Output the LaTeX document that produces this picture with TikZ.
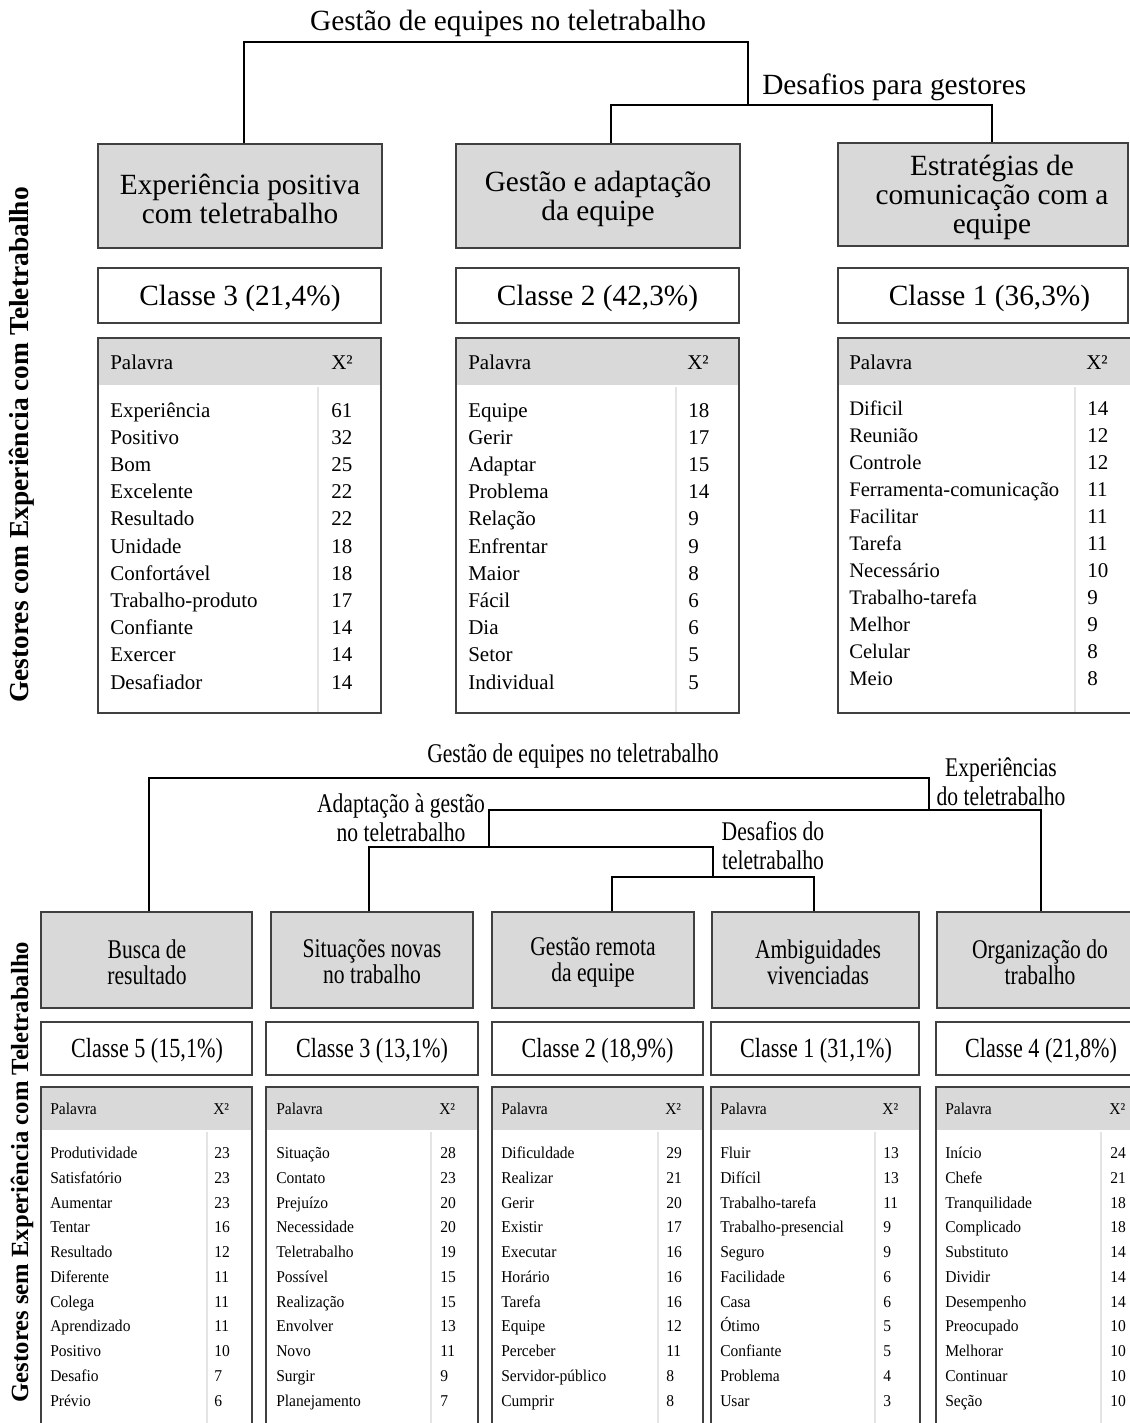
\documentclass[tikz,border=0pt]{standalone}
\usepackage{fontspec}
\setmainfont{Liberation Serif}
\newfontfamily\condfont[FakeStretch=0.8]{Liberation Serif}
\newfontfamily\tabfont[FakeStretch=0.94]{Liberation Serif}
\definecolor{boxgray}{HTML}{D9D9D9}
\definecolor{boxline}{HTML}{404040}
\definecolor{divline}{HTML}{E4E4E4}
\newcommand\myfbig{\fontsize{22}{21.75}\selectfont}
\newcommand\myftab{\fontsize{15.75}{18}\selectfont}
\newcommand\myfcl{\condfont\fontsize{20.25}{21.75}\selectfont}
\newcommand\myfcbox{\condfont\fontsize{20.25}{19.5}\selectfont}
\newcommand\myfccls{\condfont\fontsize{20.75}{22}\selectfont}
\newcommand\myfbtab{\tabfont\fontsize{12.4}{14}\selectfont}
\begin{document}
\begin{tikzpicture}[x=0.75pt,y=-0.75pt,
  graybox/.style={draw=boxline, line width=1.1pt, fill=boxgray, inner sep=0pt},
  classbox/.style={draw=boxline, line width=1.1pt, fill=white, inner sep=0pt},
  conn/.style={line width=0.9pt, draw=black},
  tabframe/.style={draw=boxline, line width=1.1pt, inner sep=0pt},
  divider/.style={draw=divline, line width=0.8pt},
  tcell/.style={inner sep=0pt, anchor=west, text height=10.7pt, text depth=0pt, font=\myftab},
  bcell/.style={inner sep=0pt, anchor=west, text height=8.4pt, text depth=0pt, font=\myfbtab},
  lbl/.style={inner sep=0pt, align=center}]
\useasboundingbox (0,0) rectangle (1129,1423);
\fill[white] (0,0) rectangle (1129,1423);

% ---------------- left labels
\node[rotate=90, inner sep=0pt, font=\bfseries\fontsize{20.6}{22}\selectfont] (lab1) at (22,445) {Gestores com Experiência com Teletrabalho};
\node[rotate=90, inner sep=0pt, font=\bfseries\fontsize{18.5}{20}\selectfont] (lab2) at (22,1172) {Gestores sem Experiência com Teletrabalho};

% ================= TOP SECTION
\node[lbl, font=\myfbig] (t0) at (508,23.5) {Gestão de equipes no teletrabalho};
\node[lbl, font=\myfbig, anchor=west] (t1) at (762,87) {Desafios para gestores};

\node[graybox, minimum width=213pt, minimum height=78pt] (a1) at (240,196) {};
\node[graybox, minimum width=213pt, minimum height=78pt] (a2) at (598,196) {};
\node[graybox, minimum width=217.5pt, minimum height=77.25pt] (a3) at (983,194.5) {};
\node[lbl, font=\myfbig] (a1t) at (240,199) {Experiência positiva\\com teletrabalho};
\node[lbl, font=\myfbig] (a2t) at (598,199) {Gestão e adaptação\\da equipe};
\node[lbl, font=\myfbig] (a3t) at (992,197) {Estratégias de\\comunicação com a\\equipe};

\coordinate (tj1L) at (244,42);
\coordinate (tj1R) at (748,42);
\coordinate (tj2L) at (611,105);
\coordinate (tj2R) at (992,105);
\draw[conn] (a1.north -| tj1L) -- (tj1L) -- (tj1R) -- (tj1R |- tj2L);
\draw[conn] (a2.north -| tj2L) -- (tj2L) -- (tj2R) -- (a3.north -| tj2R);

\node[classbox, minimum width=212.25pt, minimum height=41.25pt] (k1) at (239.5,295.5) {};
\node[classbox, minimum width=212.25pt, minimum height=41.25pt] (k2) at (597.5,295.5) {};
\node[classbox, minimum width=217.5pt, minimum height=41.25pt] (k3) at (983,295.5) {};
\node[lbl, font=\myfbig] (k1t) at (240,298) {Classe 3 (21,4\%)};
\node[lbl, font=\myfbig] (k2t) at (597.5,298) {Classe 2 (42,3\%)};
\node[lbl, font=\myfbig] (k3t) at (989.5,298) {Classe 1 (36,3\%)};

% top tables
\fill[boxgray] (98,338) rectangle (381,385);
\fill[boxgray] (456,338) rectangle (739,385);
\fill[boxgray] (838,338) rectangle (1131,385);
\draw[divider] (318,387) -- (318,712);
\draw[divider] (676,387) -- (676,712);
\draw[divider] (1075,387) -- (1075,712);
\node[tabframe, minimum width=212.25pt, minimum height=281.25pt] (tab1) at (239.5,525.5) {};
\node[tabframe, minimum width=212.25pt, minimum height=281.25pt] (tab2) at (597.5,525.5) {};
\node[tabframe, minimum width=219.75pt, minimum height=281.25pt] (tab3) at (984.5,525.5) {};

\node[tcell] (tab1h1) at (110,362) {Palavra};
\node[tcell] (tab1h2) at (331,362) {X²};
\node[tcell] (tab2h1) at (468,362) {Palavra};
\node[tcell] (tab2h2) at (687,362) {X²};
\node[tcell] (tab3h1) at (849,362) {Palavra};
\node[tcell] (tab3h2) at (1086,362) {X²};

\foreach \w/\n [count=\i from 0] in {Experiência/61,Positivo/32,Bom/25,Excelente/22,Resultado/22,Unidade/18,Confortável/18,Trabalho-produto/17,Confiante/14,Exercer/14,Desafiador/14}{
  \node[tcell] (tab1w\i) at (110,{410+27.2*\i}) {\w};
  \node[tcell] (tab1n\i) at (331,{410+27.2*\i}) {\n};
}
\foreach \w/\n [count=\i from 0] in {Equipe/18,Gerir/17,Adaptar/15,Problema/14,Relação/9,Enfrentar/9,Maior/8,Fácil/6,Dia/6,Setor/5,Individual/5}{
  \node[tcell] (tab2w\i) at (468,{410+27.2*\i}) {\w};
  \node[tcell] (tab2n\i) at (688,{410+27.2*\i}) {\n};
}
\foreach \w/\n [count=\i from 0] in {Dificil/14,Reunião/12,Controle/12,Ferramenta-comunicação/11,Facilitar/11,Tarefa/11,Necessário/10,Trabalho-tarefa/9,Melhor/9,Celular/8,Meio/8}{
  \node[tcell, font=\fontsize{15.5}{18}\selectfont] (tab3w\i) at (849,{408.5+27*\i}) {\w};
  \node[tcell] (tab3n\i) at (1087,{408.5+27*\i}) {\n};
}

% ================= BOTTOM SECTION
\node[lbl, font=\myfcl] (u0) at (573,756) {Gestão de equipes no teletrabalho};
\node[lbl, font=\myfcl] (u1) at (1001,782) {Experiências\\do teletrabalho};
\node[lbl, font=\myfcl] (u2) at (401,818) {Adaptação à gestão\\no teletrabalho};
\node[lbl, font=\myfcl] (u3) at (773,846) {Desafios do\\teletrabalho};

\node[graybox, minimum width=158.25pt, minimum height=72pt] (b1) at (146.5,960) {};
\node[graybox, minimum width=151.5pt, minimum height=72pt] (b2) at (372,960) {};
\node[graybox, minimum width=151.5pt, minimum height=72pt] (b3) at (593,960) {};
\node[graybox, minimum width=155.25pt, minimum height=72pt] (b4) at (815.5,960) {};
\node[graybox, minimum width=156pt, minimum height=72pt] (b5) at (1041,960) {};
\node[lbl, font=\myfcbox] (b1t) at (147,962) {Busca de\\resultado};
\node[lbl, font=\myfcbox] (b2t) at (372,962) {Situações novas\\no trabalho};
\node[lbl, font=\myfcbox] (b3t) at (593,962) {Gestão remota\\da equipe};
\node[lbl, font=\myfcbox] (b4t) at (818,962) {Ambiguidades\\vivenciadas};
\node[lbl, font=\myfcbox] (b5t) at (1040,962) {Organização do\\trabalho};

\coordinate (bj1L) at (149,778);
\coordinate (bj1R) at (929,778);
\coordinate (bj2L) at (489,810);
\coordinate (bj2R) at (1041,810);
\coordinate (bj3L) at (369,847);
\coordinate (bj3R) at (713,847);
\coordinate (bj4L) at (612,877);
\coordinate (bj4R) at (814,877);
\draw[conn] (b1.north -| bj1L) -- (bj1L) -- (bj1R) -- (bj1R |- bj2L);
\draw[conn] (bj2L |- bj3L) -- (bj2L) -- (bj2R) -- (b5.north -| bj2R);
\draw[conn] (b2.north -| bj3L) -- (bj3L) -- (bj3R) -- (bj3R |- bj4L);
\draw[conn] (b3.north -| bj4L) -- (bj4L) -- (bj4R) -- (b4.north -| bj4R);

\node[classbox, minimum width=158.25pt, minimum height=39.75pt] (c1) at (146.5,1048.5) {};
\node[classbox, minimum width=159pt, minimum height=39.75pt] (c2) at (372,1048.5) {};
\node[classbox, minimum width=158.25pt, minimum height=39.75pt] (c3) at (597.5,1048.5) {};
\node[classbox, minimum width=156pt, minimum height=39.75pt] (c4) at (815,1048.5) {};
\node[classbox, minimum width=157.5pt, minimum height=39.75pt] (c5) at (1041,1048.5) {};
\node[lbl, font=\myfccls] (c1t) at (147,1050.5) {Classe 5 (15,1\%)};
\node[lbl, font=\myfccls] (c2t) at (372,1050.5) {Classe 3 (13,1\%)};
\node[lbl, font=\myfccls] (c3t) at (597.5,1050.5) {Classe 2 (18,9\%)};
\node[lbl, font=\myfccls] (c4t) at (816,1050.5) {Classe 1 (31,1\%)};
\node[lbl, font=\myfccls] (c5t) at (1041,1050.5) {Classe 4 (21,8\%)};

% bottom tables
\fill[boxgray] (41,1087) rectangle (252,1130);
\fill[boxgray] (266,1087) rectangle (478,1130);
\fill[boxgray] (492,1087) rectangle (703,1130);
\fill[boxgray] (711,1087) rectangle (920,1130);
\fill[boxgray] (936,1087) rectangle (1146,1130);
\draw[divider] (207,1132) -- (207,1430);
\draw[divider] (431,1132) -- (431,1430);
\draw[divider] (658,1132) -- (658,1430);
\draw[divider] (875,1132) -- (875,1430);
\draw[divider] (1101,1132) -- (1101,1430);
\node[tabframe, minimum width=158.25pt, minimum height=257.25pt] (btab1) at (146.5,1258.5) {};
\node[tabframe, minimum width=159pt, minimum height=257.25pt] (btab2) at (372,1258.5) {};
\node[tabframe, minimum width=158.25pt, minimum height=257.25pt] (btab3) at (597.5,1258.5) {};
\node[tabframe, minimum width=156.75pt, minimum height=257.25pt] (btab4) at (815.5,1258.5) {};
\node[tabframe, minimum width=157.5pt, minimum height=257.25pt] (btab5) at (1041,1258.5) {};

\foreach \k/\wx/\nx in {1/50/213,2/276/439,3/501/665,4/720/882,5/945/1109}{
  \node[bcell] (bt\k h1) at (\wx,1109) {Palavra};
  \node[bcell] (bt\k h2) at (\nx,1109) {X²};
}

\foreach \w/\n [count=\i from 0] in {Produtividade/23,Satisfatório/23,Aumentar/23,Tentar/16,Resultado/12,Diferente/11,Colega/11,Aprendizado/11,Positivo/10,Desafio/7,Prévio/6}{
  \node[bcell] (bt1w\i) at (50,{1153+24.75*\i}) {\w};
  \node[bcell] (bt1n\i) at (214,{1153+24.75*\i}) {\n};
}
\foreach \w/\n [count=\i from 0] in {Situação/28,Contato/23,Prejuízo/20,Necessidade/20,Teletrabalho/19,Possível/15,Realização/15,Envolver/13,Novo/11,Surgir/9,Planejamento/7}{
  \node[bcell] (bt2w\i) at (276,{1153+24.75*\i}) {\w};
  \node[bcell] (bt2n\i) at (440,{1153+24.75*\i}) {\n};
}
\foreach \w/\n [count=\i from 0] in {Dificuldade/29,Realizar/21,Gerir/20,Existir/17,Executar/16,Horário/16,Tarefa/16,Equipe/12,Perceber/11,Servidor-público/8,Cumprir/8}{
  \node[bcell] (bt3w\i) at (501,{1153+24.75*\i}) {\w};
  \node[bcell] (bt3n\i) at (666,{1153+24.75*\i}) {\n};
}
\foreach \w/\n [count=\i from 0] in {Fluir/13,Difícil/13,Trabalho-tarefa/11,Trabalho-presencial/9,Seguro/9,Facilidade/6,Casa/6,Ótimo/5,Confiante/5,Problema/4,Usar/3}{
  \node[bcell] (bt4w\i) at (720,{1153+24.75*\i}) {\w};
  \node[bcell] (bt4n\i) at (883,{1153+24.75*\i}) {\n};
}
\foreach \w/\n [count=\i from 0] in {Início/24,Chefe/21,Tranquilidade/18,Complicado/18,Substituto/14,Dividir/14,Desempenho/14,Preocupado/10,Melhorar/10,Continuar/10,Seção/10}{
  \node[bcell] (bt5w\i) at (945,{1153+24.75*\i}) {\w};
  \node[bcell] (bt5n\i) at (1110,{1153+24.75*\i}) {\n};
}
\end{tikzpicture}
\end{document}
